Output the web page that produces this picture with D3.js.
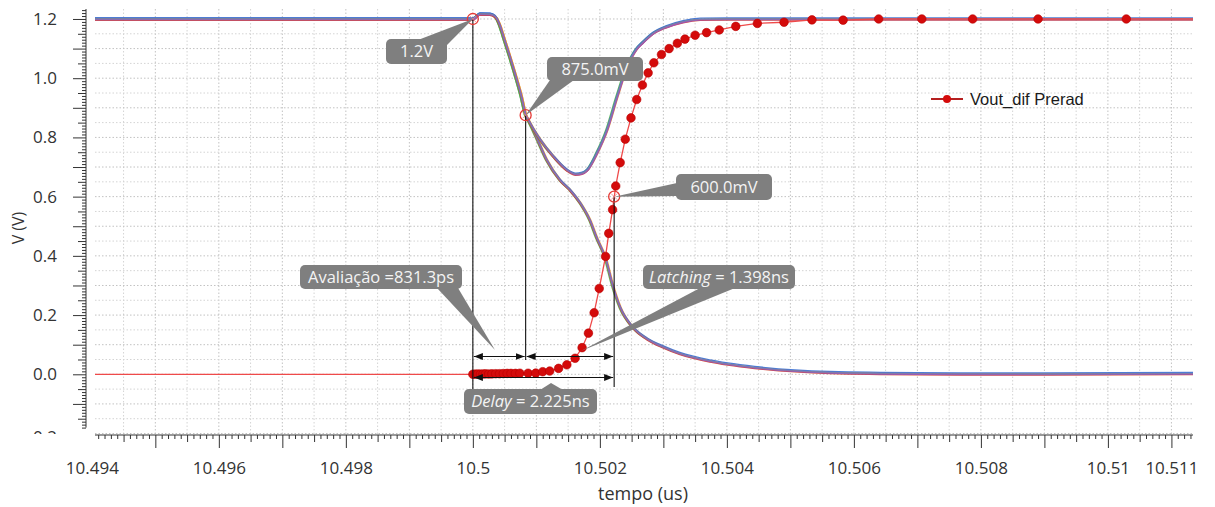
<!DOCTYPE html>
<html>
<head>
<meta charset="utf-8">
<script src="https://cdn.jsdelivr.net/npm/d3@7"></script>
<style>
  body { margin: 0; background: #fff; }
  svg { display: block; }
</style>
</head>
<body>
<svg id="chart" width="1215" height="507"></svg>
<script>
// ---- data (time in µs, voltage in V) ----
// differential output of the pre-radiation comparator (red, with sample dots)
const voutTime = [10.4935, 10.5, 10.50004, 10.50008, 10.50012, 10.50016, 10.5002, 10.50025, 10.5003,
  10.50036, 10.50042, 10.50048, 10.50054, 10.5006, 10.50067, 10.50074, 10.50087, 10.50099, 10.5011,
  10.50121, 10.50135, 10.50148, 10.50161, 10.50172, 10.50182, 10.50191, 10.50199, 10.50209, 10.50214,
  10.5022, 10.50225, 10.50232, 10.5024, 10.50249, 10.50258, 10.50267, 10.50276, 10.50285, 10.50297,
  10.50309, 10.50322, 10.50334, 10.5035, 10.50368, 10.50388, 10.50414, 10.50448, 10.5049, 10.50534,
  10.50583, 10.50639, 10.50707, 10.50787, 10.5089, 10.51029, 10.512];
const voutValue = [0, 0, 0.0005, 0.001, 0.0005, 0.001, 0.0015, 0.001, 0.0015,
  0.002, 0.002, 0.0025, 0.003, 0.003, 0.003, 0.0035, 0.0035, 0.004, 0.0088,
  0.011, 0.02, 0.032, 0.054, 0.09, 0.139, 0.208, 0.29, 0.398, 0.476,
  0.556, 0.636, 0.715, 0.794, 0.866, 0.928, 0.977, 1.018, 1.052, 1.08,
  1.1, 1.118, 1.132, 1.145, 1.154, 1.163, 1.175, 1.185, 1.189, 1.197,
  1.196, 1.2, 1.2, 1.2, 1.2, 1.2, 1.2];

// latch node that dips and recovers (several overlaid corner runs)
const nodeATime = [10.4935, 10.5, 10.50011, 10.50027, 10.50035, 10.50042, 10.50048, 10.50058, 10.50069,
  10.50076, 10.5008313, 10.50087, 10.50105, 10.50127, 10.50148, 10.50162, 10.50172, 10.5018, 10.50195,
  10.50211, 10.50227, 10.50242, 10.50258, 10.50268, 10.50284, 10.50305, 10.50331, 10.50358, 10.504, 10.512];
const nodeAValue = [1.2, 1.2, 1.217, 1.216, 1.208, 1.18, 1.14, 1.073, 0.994,
  0.94, 0.875, 0.859, 0.795, 0.735, 0.69, 0.676, 0.679, 0.69, 0.746,
  0.825, 0.938, 1.035, 1.1, 1.122, 1.152, 1.174, 1.191, 1.199, 1.2, 1.2];

// latch node that falls to ground
const nodeBTime = [10.4935, 10.5, 10.50011, 10.50027, 10.50035, 10.50042, 10.50048, 10.50058, 10.50069,
  10.50076, 10.5008313, 10.50087, 10.50102, 10.50116, 10.50137, 10.50153, 10.50169, 10.50184, 10.50195,
  10.50209, 10.5022, 10.50232, 10.50252, 10.50274, 10.503, 10.50326, 10.50378, 10.50457, 10.50562,
  10.507, 10.509, 10.512];
const nodeBValue = [1.2, 1.2, 1.217, 1.216, 1.208, 1.18, 1.14, 1.073, 0.994,
  0.94, 0.875, 0.859, 0.79, 0.724, 0.656, 0.622, 0.578, 0.521, 0.46,
  0.39, 0.3, 0.225, 0.158, 0.12, 0.092, 0.07, 0.043, 0.02, 0.006,
  0.002, 0.001, 0.003];

const xTickLabels = [10.494, 10.496, 10.498, 10.5, 10.502, 10.504, 10.506, 10.508, 10.51, 10.511];
const yTickLabels = [-0.2, 0, 0.2, 0.4, 0.6, 0.8, 1.0, 1.2];

// cursor points (time, level) and their readouts
const markerTime = [10.5, 10.5008313, 10.502225];
const markerValue = [1.2, 0.875, 0.6];
const markerText = ["1.2V", "875.0mV", "600.0mV"];

// measured intervals, as reported by the calculator
const intervalName = ["Avaliação", "Latching", "Delay"];
const intervalText = ["831.3ps", "1.398ns", "2.225ns"];

const seriesName = "Vout_dif Prerad";
const traceColors = ["#e8962e", "#4caf50", "#d0402a", "#3a6fd0", "#9b4fc8", "#8479ab"];

// ---- layout ----
const svg = d3.select("#chart");
const plotLeft = 95, plotRight = 1193, plotTop = 9, plotBottom = 435, yAxisX = 86;

const x = d3.scaleLinear().domain([10.49405, 10.51134]).range([plotLeft, plotRight]);
const y = d3.scaleLinear().domain([-0.205, 1.2337]).range([plotBottom, plotTop]);

const defs = svg.append("defs");
defs.append("clipPath").attr("id", "plotClip")
  .append("rect").attr("x", plotLeft).attr("y", 0).attr("width", plotRight - plotLeft).attr("height", plotBottom);
defs.append("clipPath").attr("id", "yAxisClip")
  .append("rect").attr("x", 0).attr("y", 0).attr("width", plotLeft).attr("height", plotBottom - 1);
defs.append("marker").attr("id", "arrow")
  .attr("viewBox", "0 0 9 7").attr("refX", 9).attr("refY", 3.5)
  .attr("markerWidth", 9).attr("markerHeight", 7).attr("markerUnits", "userSpaceOnUse")
  .attr("orient", "auto-start-reverse")
  .append("path").attr("d", "M0,0 L9,3.5 L0,7 Z").attr("fill", "#111");

// ---- grid ----
const grid = svg.append("g");
const vGrid = d3.range(104941, 105114).filter(i => i % 5 === 0).map(i => i / 10000);
grid.selectAll(".vg").data(vGrid).join("line")
  .attr("x1", d => x(d)).attr("x2", d => x(d)).attr("y1", plotTop).attr("y2", plotBottom)
  .attr("stroke", d => Math.round(d * 10000) % 10 === 0 ? "#c2c2c2" : "#d4d4d4")
  .attr("stroke-width", 1).attr("stroke-dasharray", "1.5,2");
const hGrid = d3.range(-4, 25).map(i => i / 20);
grid.selectAll(".hg").data(hGrid).join("line")
  .attr("x1", plotLeft).attr("x2", plotRight).attr("y1", d => y(d)).attr("y2", d => y(d))
  .attr("stroke", (d, i) => i % 2 === 0 ? "#c2c2c2" : "#d4d4d4")
  .attr("stroke-width", 1).attr("stroke-dasharray", "1.5,2");

// ---- axes ----
const axisColor = "#333";
const fontTick = "'Open Sans', 'Noto Sans', sans-serif";

// x axis: minor / mid / major ticks + labels
const xAll = d3.range(104941, 105114).map(i => i / 10000);
const xMinor = xAll.filter(d => Math.round(d * 10000) % 5 !== 0);
const xMid = xAll.filter(d => Math.round(d * 10000) % 5 === 0 && Math.round(d * 10000) % 10 !== 0);
const xMajor = xAll.filter(d => Math.round(d * 10000) % 10 === 0);

function styleAxis(g) {
  g.select(".domain").remove();
  g.selectAll("line").attr("stroke", axisColor);
  g.selectAll("text").attr("fill", axisColor).attr("font-family", fontTick);
}
svg.append("g").attr("transform", `translate(0,${plotBottom})`)
  .call(d3.axisBottom(x).tickValues(xMinor).tickSize(4).tickFormat("")).call(styleAxis);
svg.append("g").attr("transform", `translate(0,${plotBottom})`)
  .call(d3.axisBottom(x).tickValues(xMid).tickSize(7).tickFormat("")).call(styleAxis);
svg.append("g").attr("transform", `translate(0,${plotBottom})`)
  .call(d3.axisBottom(x).tickValues(xMajor).tickSize(13).tickFormat("")).call(styleAxis);
svg.append("g").attr("transform", `translate(0,${plotBottom})`)
  .call(d3.axisBottom(x).tickValues(xTickLabels).tickSize(0).tickPadding(27)
    .tickFormat(d => String(+d.toFixed(3))))
  .call(styleAxis)
  .selectAll("text").attr("font-size", "17px");
svg.append("line").attr("x1", plotLeft).attr("x2", plotRight).attr("y1", plotBottom).attr("y2", plotBottom)
  .attr("stroke", axisColor).attr("stroke-width", 1);

// y axis
const yAxisG = svg.append("g").attr("clip-path", "url(#yAxisClip)");
const yAll = d3.range(-18, 124).map(i => i / 100);
const yMinor = yAll.filter(d => Math.round(d * 100) % 5 !== 0);
const yMid = yAll.filter(d => Math.round(d * 100) % 5 === 0 && Math.round(d * 100) % 10 !== 0);
const yMajor = yAll.filter(d => Math.round(d * 100) % 10 === 0);
yAxisG.append("g").attr("transform", `translate(${yAxisX},0)`)
  .call(d3.axisLeft(y).tickValues(yMinor).tickSize(4).tickFormat("")).call(styleAxis);
yAxisG.append("g").attr("transform", `translate(${yAxisX},0)`)
  .call(d3.axisLeft(y).tickValues(yMid).tickSize(8).tickFormat("")).call(styleAxis);
yAxisG.append("g").attr("transform", `translate(${yAxisX},0)`)
  .call(d3.axisLeft(y).tickValues(yMajor).tickSize(13).tickFormat("")).call(styleAxis);
yAxisG.append("g").attr("transform", `translate(${yAxisX},0)`)
  .call(d3.axisLeft(y).tickValues(yTickLabels).tickSize(0).tickPadding(29).tickFormat(d3.format(".1f")))
  .call(styleAxis)
  .selectAll("text").attr("font-size", "17px")
  .attr("dy", d => d < 0 ? "0.55em" : "0.32em");
yAxisG.append("line").attr("x1", yAxisX).attr("x2", yAxisX).attr("y1", y(-0.18)).attr("y2", plotTop)
  .attr("stroke", axisColor).attr("stroke-width", 1);

// axis titles
svg.append("text").attr("x", 643).attr("y", 500).attr("text-anchor", "middle")
  .attr("font-family", fontTick).attr("font-size", "18px").attr("fill", axisColor).text("tempo (us)");
svg.append("text").attr("transform", "translate(24,228) rotate(-90)").attr("text-anchor", "middle")
  .attr("font-family", fontTick).attr("font-size", "16px").attr("fill", axisColor).text("V (V)");

// ---- curves ----
const plot = svg.append("g").attr("clip-path", "url(#plotClip)");
const smoothLine = d3.line().curve(d3.curveMonotoneX).x(d => x(d[0])).y(d => y(d[1]));
const lineGen = d3.line().x(d => x(d[0])).y(d => y(d[1]));
const nodeA = d3.zip(nodeATime, nodeAValue);
const nodeB = d3.zip(nodeBTime, nodeBValue);
const traceShift = [[1.1, 0], [-1.1, 0], [0, 1.1], [0, -1.1], [0.6, 0.6], [0, 0]];
[nodeB, nodeA].forEach(pts => {
  traceColors.forEach((c, i) => {
    plot.append("path").datum(pts).attr("d", smoothLine)
      .attr("transform", `translate(${traceShift[i][0]},${traceShift[i][1]})`)
      .attr("fill", "none").attr("stroke", c).attr("stroke-width", 1.3).attr("stroke-opacity", 0.9);
  });
});

const vout = d3.zip(voutTime, voutValue);
plot.append("path").datum(vout).attr("d", lineGen)
  .attr("fill", "none").attr("stroke", "#ef4a4a").attr("stroke-width", 1.3);
plot.selectAll(".dot").data(vout).join("circle")
  .attr("cx", d => x(d[0])).attr("cy", d => y(d[1])).attr("r", 4.3)
  .attr("fill", "#d40b0b").attr("stroke", "#b80000").attr("stroke-width", 0.6);

// ---- measurement guides ----
const mx = markerTime.map(t => x(t));
const my = markerValue.map(v => y(v));
const guide = svg.append("g").attr("stroke", "#111").attr("stroke-width", 1.1);
guide.append("line").attr("x1", mx[0]).attr("x2", mx[0]).attr("y1", my[0]).attr("y2", 389);
guide.append("line").attr("x1", mx[1]).attr("x2", mx[1]).attr("y1", my[1]).attr("y2", 360);
guide.append("line").attr("x1", mx[2]).attr("x2", mx[2]).attr("y1", my[2]).attr("y2", 387);

const dims = [[mx[0] + 1, mx[1] - 1, 356.5], [mx[1] + 1, mx[2] - 1, 356.5], [mx[0] + 1, mx[2] - 1, 377.5]];
guide.selectAll(".dim").data(dims).join("line")
  .attr("x1", d => d[0]).attr("x2", d => d[1]).attr("y1", d => d[2]).attr("y2", d => d[2])
  .attr("marker-start", "url(#arrow)").attr("marker-end", "url(#arrow)");

// marker rings
const rings = svg.append("g");
markerTime.forEach((t, i) => {
  const g = rings.append("g").attr("transform", `translate(${mx[i]},${my[i]})`);
  g.append("circle").attr("r", 5.5).attr("fill", "none").attr("stroke", "#e53935").attr("stroke-width", 1.3);
  g.append("path").attr("d", "M-3,-3L3,3M-3,3L3,-3").attr("stroke", "#f08080").attr("stroke-width", 0.8);
});

// ---- callouts ----
const calloutFill = "#7f7f7f";
function callout(box, base, apex, parts) {
  const g = svg.append("g");
  g.append("path")
    .attr("d", `M${base[0][0]},${base[0][1]}L${apex[0]},${apex[1]}L${base[1][0]},${base[1][1]}Z`)
    .attr("fill", calloutFill);
  g.append("rect").attr("x", box[0]).attr("y", box[1]).attr("width", box[2]).attr("height", box[3])
    .attr("rx", 5).attr("fill", calloutFill);
  const t = g.append("text").attr("x", box[0] + box[2] / 2).attr("y", box[1] + box[3] / 2 + 5.8)
    .attr("text-anchor", "middle").attr("font-family", fontTick).attr("font-size", "16.5px")
    .attr("fill", "#f4f4f4");
  parts.forEach(p => t.append("tspan").attr("font-style", p[1] ? "italic" : "normal").text(p[0]));
}
callout([386, 39, 61, 25], [[418, 40], [446, 46]], [mx[0], my[0]], [[markerText[0]]]);
callout([547, 57, 96, 24], [[550, 80], [574, 80]], [mx[1], my[1]], [[markerText[1]]]);
callout([676, 174, 96, 26], [[677, 183], [677, 196]], [mx[2], my[2]], [[markerText[2]]]);

callout([300, 265, 162, 24], [[437, 288], [458, 288]], [495, 350],
  [[intervalName[0] + " =" + intervalText[0]]]);
callout([643, 265, 152, 24], [[700, 288], [735, 288]], [581, 351],
  [[intervalName[1], true], [" = " + intervalText[1]]]);
callout([464, 389, 133, 25], [[540, 390], [563, 390]], [551, 383],
  [[intervalName[2], true], [" = " + intervalText[2]]]);

// ---- legend ----
const leg = svg.append("g").attr("transform", "translate(931,99)");
leg.append("line").attr("x1", 0).attr("x2", 32).attr("y1", 0).attr("y2", 0)
  .attr("stroke", "#b52020").attr("stroke-width", 2);
leg.append("circle").attr("cx", 16).attr("cy", 0).attr("r", 4).attr("fill", "#d40b0b");
leg.append("text").attr("x", 39).attr("y", 6).attr("font-family", "'Liberation Sans', Arial, sans-serif")
  .attr("font-size", "16.5px").attr("fill", "#1a1a1a").text(seriesName);
</script>
</body>
</html>
